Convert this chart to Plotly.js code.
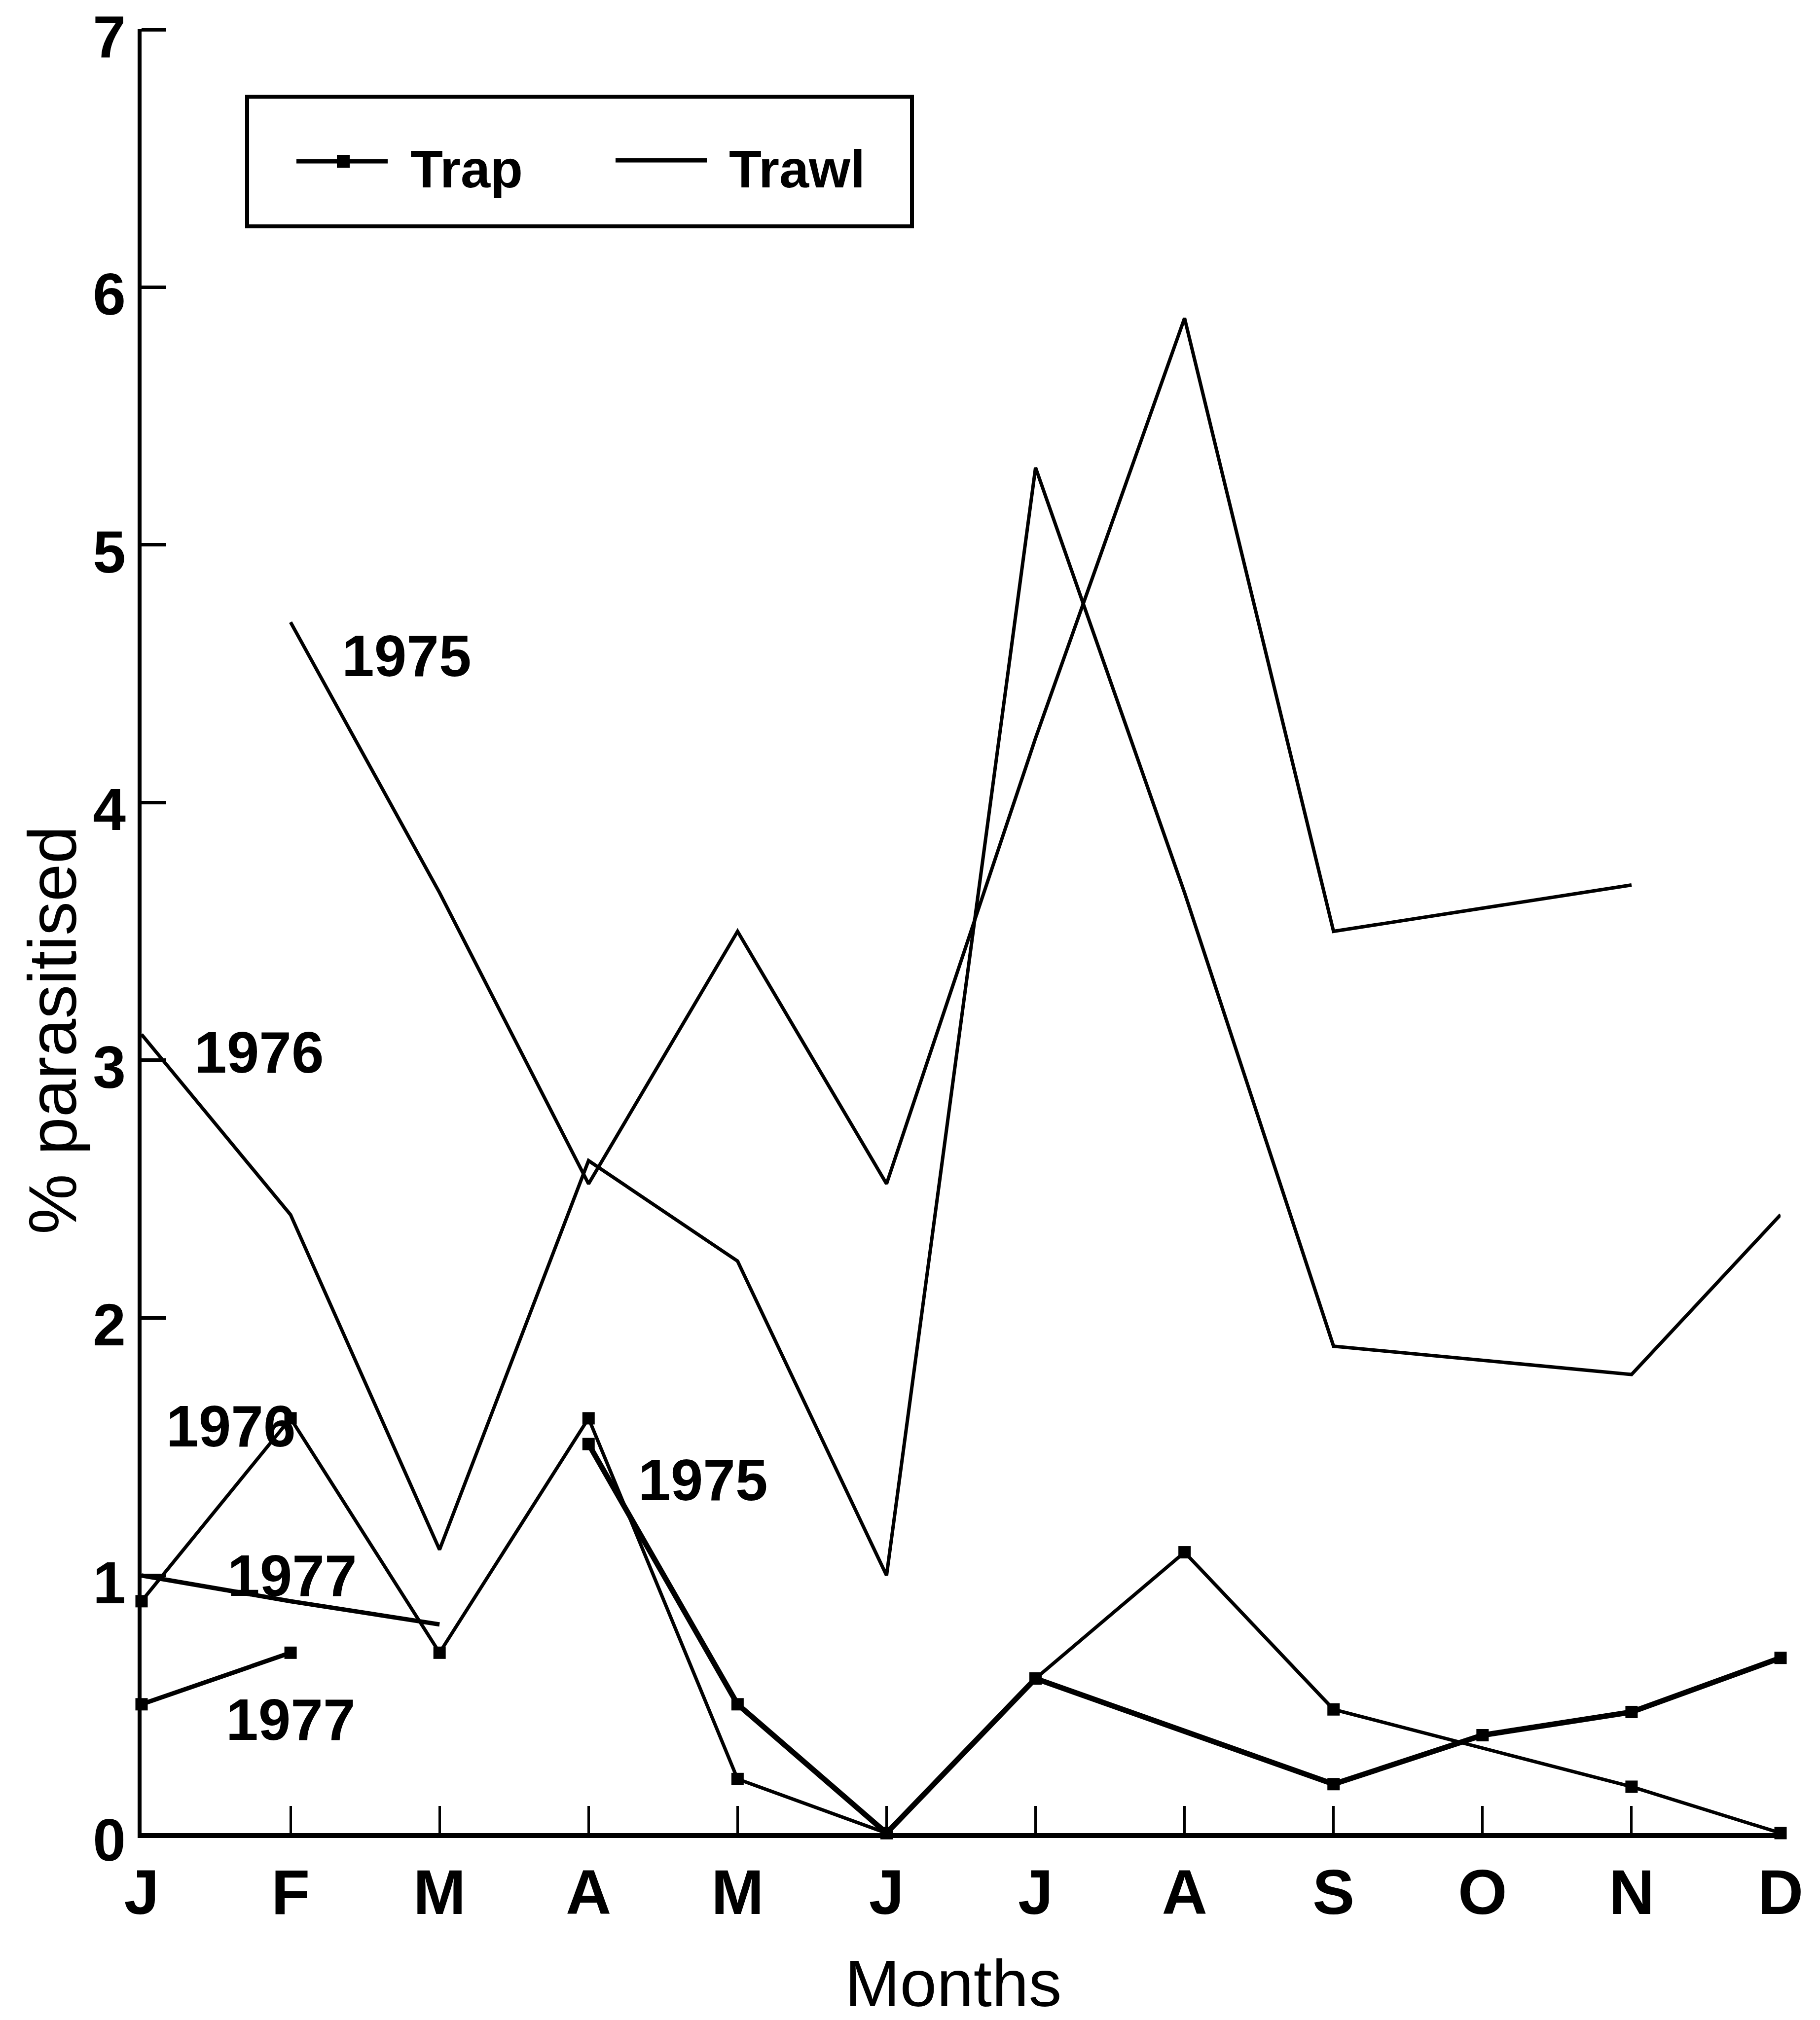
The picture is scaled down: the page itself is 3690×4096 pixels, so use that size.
<!DOCTYPE html>
<html>
<head>
<meta charset="utf-8">
<script src="https://cdn.plot.ly/plotly-3.0.1.min.js"></script>
<style>
  html, body { margin: 0; padding: 0; background: #fff; }
  #chart { width: 3690px; height: 4096px; }
</style>
</head>
<body>
<div id="chart"></div>
<script>
// Month tick labels (Jan..Dec)
const months = ['J', 'F', 'M', 'A', 'M', 'J', 'J', 'A', 'S', 'O', 'N', 'D'];

// % parasitised, trawl samples (null = no sample that month)
const trawl1975 = [null, 4.70, 3.65, 2.52, 3.50, 2.52, 4.25, 5.88, 3.50, null, 3.68, null];
const trawl1976 = [3.10, 2.40, 1.10, 2.61, 2.22, 1.00, 5.30, 3.65, 1.89, null, 1.78, 2.40];
const trawl1977 = [1.00, 0.90, 0.81, null, null, null, null, null, null, null, null, null];

// % parasitised, trap samples
const trap1975 = [null, null, null, 1.51, 0.50, 0.00, 0.60, null, 0.19, 0.38, 0.47, 0.68];
const trap1976 = [0.90, 1.61, 0.70, 1.61, 0.21, 0.00, 0.60, 1.09, 0.48, null, 0.18, 0.00];
const trap1977 = [0.50, 0.70, null, null, null, null, null, null, null, null, null, null];

// Year labels written beside the curves: [text, month position, % value]
const yearLabels = [
  ['1975', 1.78, 4.57],
  ['1976', 0.79, 3.03],
  ['1976', 0.60, 1.58],
  ['1975', 3.77, 1.37],
  ['1977', 1.01, 1.00],
  ['1977', 1.00, 0.44]
];

const yTicks = [0, 1, 2, 3, 4, 5, 6, 7];
const monthIndex = months.map((_, i) => i);

// ---- page geometry (pixels) ----
const W = 3690, H = 4096;
const M = { l: 287, r: 80, t: 59, b: 379 };
const plotW = W - M.l - M.r;
const plotH = H - M.t - M.b;
const paperX = px => (px - M.l) / plotW;
const paperY = py => (H - M.b - py) / plotH;

const FONT = '"Liberation Sans", Arial, Helvetica, sans-serif';
const INK = '#000000';

function series(y, width, withMarkers) {
  return {
    x: monthIndex,
    y: y,
    type: 'scatter',
    mode: withMarkers ? 'lines+markers' : 'lines',
    connectgaps: true,
    cliponaxis: false,
    showlegend: false,
    hoverinfo: 'skip',
    line: { color: INK, width: width },
    marker: { symbol: 'square', size: 25, color: INK }
  };
}

const data = [
  series(trawl1975, 7, false),
  series(trawl1976, 7, false),
  series(trawl1977, 9, false),
  series(trap1975, 11, true),
  series(trap1976, 7, true),
  series(trap1977, 9, true)
];

// Legend frame and key samples
const legendBox = { x0: 501, x1: 1849, y0: 196, y1: 459 };
const shapes = [
  { type: 'rect', xref: 'paper', yref: 'paper',
    x0: paperX(legendBox.x0), x1: paperX(legendBox.x1),
    y0: paperY(legendBox.y1), y1: paperY(legendBox.y0),
    line: { color: INK, width: 8 }, fillcolor: 'rgba(0,0,0,0)' },
  { type: 'line', xref: 'paper', yref: 'paper',
    x0: paperX(601), x1: paperX(786), y0: paperY(327), y1: paperY(327),
    line: { color: INK, width: 9 } },
  { type: 'rect', xref: 'paper', yref: 'paper',
    x0: paperX(684), x1: paperX(708), y0: paperY(339), y1: paperY(315),
    line: { color: INK, width: 2 }, fillcolor: INK },
  { type: 'line', xref: 'paper', yref: 'paper',
    x0: paperX(1248), x1: paperX(1433), y0: paperY(325), y1: paperY(325),
    line: { color: INK, width: 9 } }
];

const annotations = [
  { text: 'Trap', xref: 'paper', yref: 'paper', x: paperX(830), y: paperY(342),
    xanchor: 'left', yanchor: 'middle', showarrow: false,
    font: { family: FONT, size: 108, weight: 'bold', color: INK } },
  { text: 'Trawl', xref: 'paper', yref: 'paper', x: paperX(1476), y: paperY(342),
    xanchor: 'left', yanchor: 'middle', showarrow: false,
    font: { family: FONT, size: 108, weight: 'bold', color: INK } },
  { text: 'Months', xref: 'paper', yref: 'paper', x: paperX(1932), y: paperY(4021),
    xanchor: 'center', yanchor: 'middle', showarrow: false,
    font: { family: FONT, size: 134, color: INK } },
  { text: '% parasitised', xref: 'paper', yref: 'paper', x: paperX(106), y: paperY(2089),
    xanchor: 'center', yanchor: 'middle', textangle: -90, showarrow: false,
    font: { family: FONT, size: 138, color: INK } }
].concat(yearLabels.map(([t, xm, yv]) => ({
  text: t, xref: 'x', yref: 'y', x: xm, y: yv,
  xanchor: 'center', yanchor: 'middle', showarrow: false,
  font: { family: FONT, size: 118, weight: 'bold', color: INK }
})));

const layout = {
  width: W,
  height: H,
  margin: M,
  paper_bgcolor: '#ffffff',
  plot_bgcolor: '#ffffff',
  showlegend: false,
  font: { family: FONT, color: INK },
  xaxis: {
    range: [0, 11],
    tickvals: monthIndex,
    ticktext: months,
    ticks: 'inside',
    ticklen: 55,
    tickwidth: 5,
    tickcolor: INK,
    showline: true,
    linewidth: 10,
    linecolor: INK,
    showgrid: false,
    zeroline: false,
    fixedrange: true,
    ticklabeloverflow: 'allow',
    tickfont: { family: FONT, size: 128, weight: 'bold', color: INK }
  },
  yaxis: {
    range: [0, 7.002],
    tickvals: yTicks,
    ticktext: yTicks.map(String),
    ticks: 'inside',
    ticklen: 50,
    tickwidth: 7,
    tickcolor: INK,
    showline: true,
    linewidth: 8,
    linecolor: INK,
    showgrid: false,
    zeroline: false,
    fixedrange: true,
    ticklabeloverflow: 'allow',
    ticklabelshift: 14,
    tickfont: { family: FONT, size: 120, weight: 'bold', color: INK }
  },
  shapes: shapes,
  annotations: annotations
};

Plotly.newPlot('chart', data, layout, { staticPlot: true, displayModeBar: false });
</script>
</body>
</html>
